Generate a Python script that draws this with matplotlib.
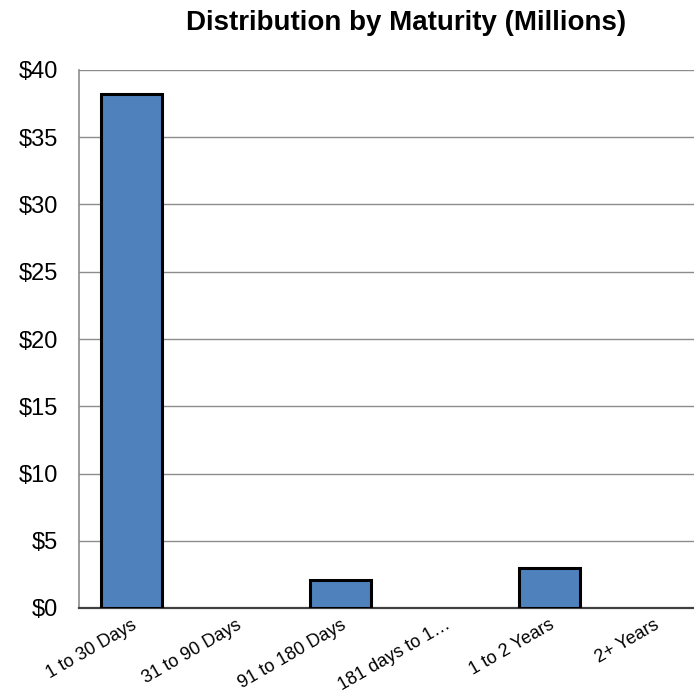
import matplotlib
matplotlib.use("Agg")
import matplotlib.pyplot as plt
from matplotlib.ticker import FuncFormatter

categories = ["1 to 30 Days", "31 to 90 Days", "91 to 180 Days", "181 days to 1\u2026", "1 to 2 Years", "2+ Years"]
values = [38.25, 0, 2.05, 0, 3.0, 0]
title = "Distribution by Maturity (Millions)"

plt.rcParams['font.family'] = ['Liberation Sans', 'DejaVu Sans']

fig = plt.figure(figsize=(6.94, 6.99), dpi=100)
W, H = 694, 699
ax = fig.add_axes([79 / W, 1 - 608 / H, 627 / W, (608 - 70) / H])

lws = [2.2 if v > 0 else 0 for v in values]
ax.bar(range(len(categories)), values, width=0.58, color="#4F81BD", edgecolor="black", linewidth=lws, zorder=3)
ax.set_xlim(-0.5, len(categories) - 0.5)
ax.set_ylim(0, 40)
ax.set_yticks(range(0, 41, 5))
ax.yaxis.set_major_formatter(FuncFormatter(lambda v, p: f"${int(v)}"))
ax.grid(axis="y", color="#8c8c8c", linewidth=1.0, zorder=0)
ax.set_axisbelow(True)
for s in ["top", "right"]:
    ax.spines[s].set_visible(False)
ax.spines["left"].set_color("#8c8c8c")
ax.spines["left"].set_linewidth(1.2)
ax.spines["bottom"].set_color("#404040")
ax.spines["bottom"].set_linewidth(1.6)
ax.tick_params(axis="y", length=0, labelsize=17, pad=15)
ax.tick_params(axis="x", length=0, labelsize=13, pad=6)
ax.set_xticks(range(len(categories)))
ax.set_xticklabels(categories, rotation=30, ha="right", rotation_mode="anchor")

fig.text(406 / W, 1 - 30 / H, title, ha="center", va="baseline", fontsize=20, fontweight="bold")

fig.savefig("out.png", dpi=100)
